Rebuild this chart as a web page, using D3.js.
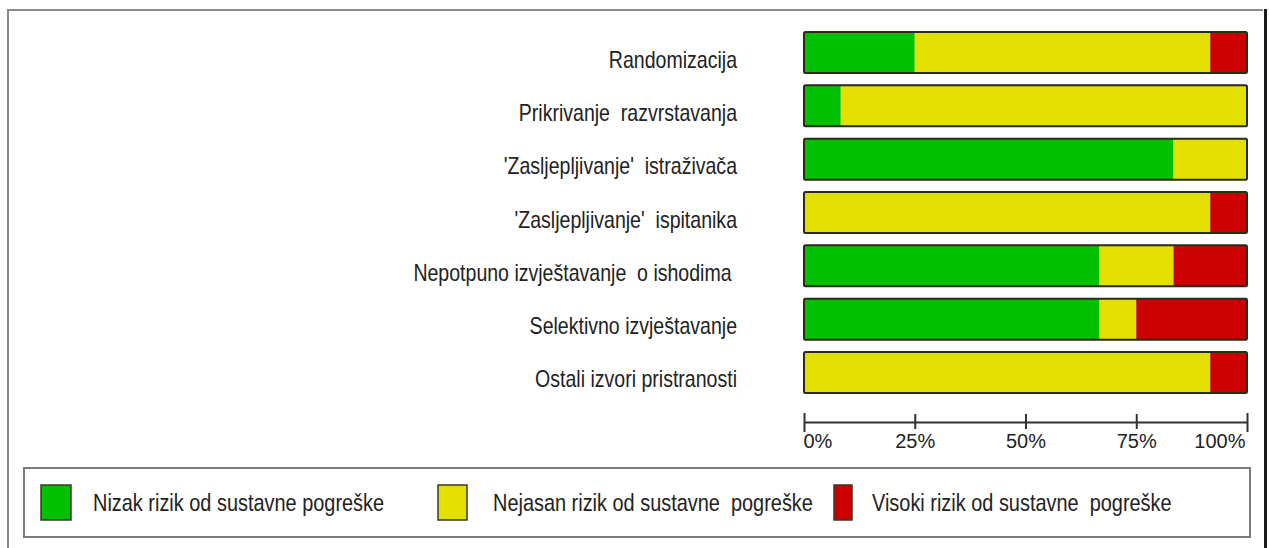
<!DOCTYPE html>
<html>
<head>
<meta charset="utf-8">
<script src="https://cdn.jsdelivr.net/npm/d3@7"></script>
<style>
  html, body { margin: 0; padding: 0; background: #fff; }
  svg { display: block; }
  text { font-family: "Liberation Sans", Arial, sans-serif; fill: #222; }
</style>
</head>
<body>
<div id="chart"></div>
<script>
// risk-of-bias summary, percent of studies per domain
const domains = [
  'Randomizacija',
  'Prikrivanje  razvrstavanja',
  '\'Zasljepljivanje\'  istraživača',
  '\'Zasljepljivanje\'  ispitanika',
  'Nepotpuno izvještavanje  o ishodima ',
  'Selektivno izvještavanje',
  'Ostali izvori pristranosti'
];
const lowRisk = [25, 8.3, 83.3, 0, 66.7, 66.7, 0];
const unclearRisk = [66.7, 91.7, 16.7, 91.7, 16.7, 8.3, 91.7];
const highRisk = [8.3, 0, 0, 8.3, 16.6, 25, 8.3];

const seriesKeys = ['low', 'unclear', 'high'];
const seriesColors = ['#00c000', '#e3e000', '#cc0000'];
const legendLabels = [
  'Nizak rizik od sustavne pogreške',
  'Nejasan rizik od sustavne  pogreške',
  'Visoki rizik od sustavne  pogreške'
];
const tickValues = [0, 25, 50, 75, 100];

const width = 1269;
const height = 548;

const table = domains.map((d, i) => ({
  domain: d,
  low: lowRisk[i],
  unclear: unclearRisk[i],
  high: highRisk[i]
}));

const svg = d3.select('#chart').append('svg').attr('width', width).attr('height', height);

// outer frame
svg.append('path')
  .attr('d', 'M8,560 V10 H1263')
  .attr('fill', 'none')
  .attr('stroke', '#8a8a8a')
  .attr('stroke-width', 2);
svg.append('line')
  .attr('x1', 1265.5).attr('x2', 1265.5)
  .attr('y1', 9).attr('y2', 560)
  .attr('stroke', '#1a1a1a')
  .attr('stroke-width', 3);

const x = d3.scaleLinear().domain([0, 100]).range([804, 1247]);
const y = d3.scaleBand().domain(domains).range([32, 393]).paddingInner(0.231).paddingOuter(0);

const stacked = d3.stack().keys(seriesKeys)(table);
const color = d3.scaleOrdinal().domain(seriesKeys).range(seriesColors);

const barsG = svg.append('g');
barsG.selectAll('g')
  .data(stacked)
  .join('g')
  .attr('fill', s => color(s.key))
  .selectAll('rect')
  .data(s => s)
  .join('rect')
  .attr('x', d => x(d[0]))
  .attr('y', d => y(d.data.domain))
  .attr('width', d => x(d[1]) - x(d[0]))
  .attr('height', y.bandwidth());

// outline around each whole bar
barsG.selectAll('rect.outline')
  .data(domains)
  .join('rect')
  .attr('class', 'outline')
  .attr('x', x(0))
  .attr('y', d => y(d))
  .attr('width', x(100) - x(0))
  .attr('height', y.bandwidth())
  .attr('rx', 1.5)
  .attr('fill', 'none')
  .attr('stroke', '#2b2b18')
  .attr('stroke-width', 2);

// category labels (condensed, like the original)
svg.append('g')
  .selectAll('g')
  .data(domains)
  .join('g')
  .attr('transform', d => `translate(737,${y(d) + y.bandwidth() / 2 + 15}) scale(0.85,1)`)
  .append('text')
  .attr('text-anchor', 'end')
  .attr('font-size', 23)
  .style('white-space', 'pre')
  .text(d => d);

// percent axis
const axisG = svg.append('g').attr('transform', 'translate(0,422)');
axisG.call(d3.axisBottom(x).tickValues(tickValues).tickSize(0).tickFormat(d => d + '%'));
axisG.select('.domain').attr('stroke', '#333').attr('stroke-width', 2);
axisG.selectAll('.tick line').remove();
axisG.selectAll('.tick')
  .append('line')
  .attr('y1', (d, i) => (i === 0 || i === tickValues.length - 1 ? -9 : -8))
  .attr('y2', (d, i) => (i === 0 || i === tickValues.length - 1 ? 10 : 7))
  .attr('stroke', '#333')
  .attr('stroke-width', 2);
axisG.selectAll('.tick text')
  .attr('y', 26)
  .attr('dy', 0)
  .attr('font-size', 20)
  .attr('font-family', '"Liberation Sans", sans-serif')
  .attr('fill', '#333')
  .attr('text-anchor', (d, i) => (i === 0 ? 'start' : i === tickValues.length - 1 ? 'end' : 'middle'))
  .attr('x', (d, i) => (i === 0 ? -1 : i === tickValues.length - 1 ? -2 : 0));

// legend
const legend = svg.append('g');
legend.append('rect')
  .attr('x', 24).attr('y', 468)
  .attr('width', 1226).attr('height', 69)
  .attr('fill', '#fff')
  .attr('stroke', '#7a7a7a')
  .attr('stroke-width', 2);

const legendItems = [
  { sx: 41, sw: 30, tx: 93 },
  { sx: 438, sw: 29, tx: 493 },
  { sx: 834, sw: 18, tx: 872 }
];

const items = legend.selectAll('g.item')
  .data(legendItems)
  .join('g')
  .attr('class', 'item');
items.append('rect')
  .attr('x', d => d.sx)
  .attr('y', 485)
  .attr('width', d => d.sw)
  .attr('height', 35)
  .attr('fill', (d, i) => seriesColors[i])
  .attr('stroke', '#3a3a20')
  .attr('stroke-width', 1.5);
items.append('g')
  .attr('transform', d => `translate(${d.tx},511) scale(0.83,1)`)
  .append('text')
  .attr('font-size', 24)
  .style('white-space', 'pre')
  .text((d, i) => legendLabels[i]);
</script>
</body>
</html>
